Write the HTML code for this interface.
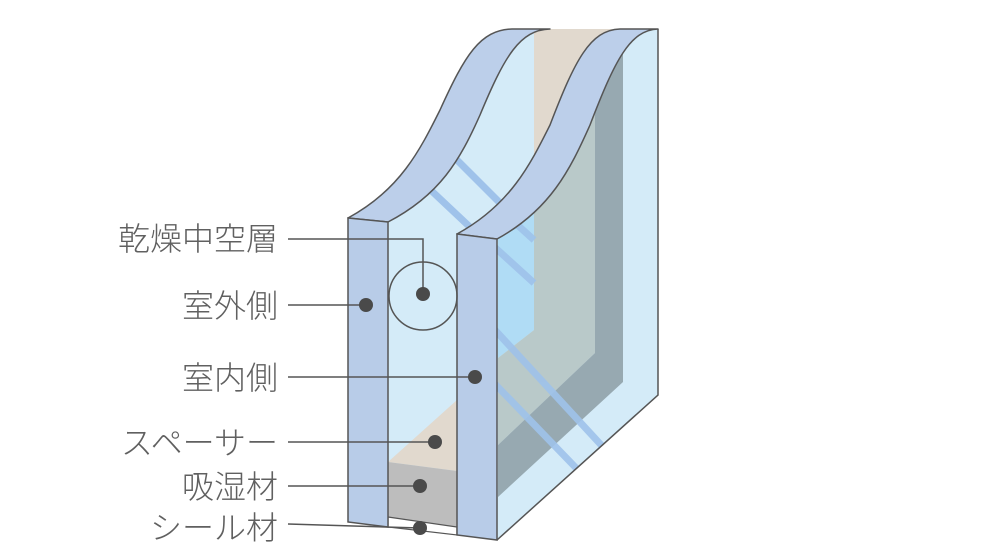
<!DOCTYPE html>
<html><head><meta charset="utf-8"><style>
html,body{margin:0;padding:0;background:#fff;width:1000px;height:557px;overflow:hidden}
svg{display:block}
text{font-family:"Liberation Sans","Noto Sans CJK JP",sans-serif;font-size:32px;fill:#606060;font-weight:300}
</style></head><body>
<svg width="1000" height="557" viewBox="0 0 1000 557" xmlns="http://www.w3.org/2000/svg">
<defs>
<clipPath id="thru"><path d="M497,239 C550,210 570,170 590,125 C615,60 630,30 658,29 L658,395 L497,540 Z"/></clipPath>
<clipPath id="gap"><path d="M388,222 C440,195 460,160 480,115 C505,55 520,30 550,29 L620,29 C590,30 575,60 550,125 C530,165 510,205 457,234 L457,540 L388,540 Z"/></clipPath>
</defs>
<path d="M348,218 C400,190 420,150 440,110 C465,55 480,30 512,29 L658,29 L658,395 L497,540 L348,522 Z" fill="#d4ebf8"/>
<g clip-path="url(#gap)" stroke="#9fc2ea" stroke-width="7">
<line x1="440" y1="143" x2="540" y2="243"/>
<line x1="420" y1="180" x2="540" y2="293"/>
</g>
<g clip-path="url(#gap)"><rect x="534" y="29" width="90" height="260" fill="#e1d9ce"/></g>
<g clip-path="url(#thru)">
<rect x="490" y="20" width="180" height="530" fill="#d4ebf8"/>
<polygon points="498,20 534,20 534,330 498,358" fill="#b0dcf5"/>
<polygon points="534,20 595,20 595,353 498,445 498,358 534,330" fill="#b9c9c9"/>
<polygon points="595,20 623,20 623,382 498,497 498,445 595,353" fill="#97a9b1"/>
<g stroke="#9fc2ea" stroke-width="7" opacity="0.9">
<line x1="490" y1="243" x2="534" y2="283"/>
<line x1="490" y1="200" x2="534" y2="240"/>
<line x1="495" y1="330" x2="603" y2="447"/>
<line x1="495" y1="384" x2="578" y2="470"/>
</g>
</g>
<polygon points="388,462 457,400 457,471" fill="#e1d9ce"/>
<polygon points="388,462 457,471 457,527 388,517" fill="#bdbdbd"/>
<polygon points="388,517 457,527 457,535 388,527" fill="#fff" stroke="#555" stroke-width="1.2"/>
<path d="M348,218 C400,190 420,150 440,110 C465,55 480,30 512,29 L550,29 C520,30 505,55 480,115 C460,160 440,195 388,222 Z" fill="#bccfea" stroke="#555" stroke-width="1.5" stroke-linejoin="round"/>
<polygon points="348,218 388,222 388,527 348,522" fill="#b8cce8" stroke="#555" stroke-width="1.5"/>
<path d="M457,234 C510,205 530,165 550,125 C575,60 590,30 620,29 L658,29 C630,30 615,60 590,125 C570,170 550,210 497,239 Z" fill="#bccfea" stroke="#555" stroke-width="1.5" stroke-linejoin="round"/>
<polygon points="457,234 497,239 497,540 457,535" fill="#b8cce8" stroke="#555" stroke-width="1.5"/>
<polyline points="658,29 658,395 497,540" fill="none" stroke="#555" stroke-width="1.5"/>
<circle cx="423" cy="296" r="34" fill="none" stroke="#555" stroke-width="1.5"/>
<g stroke="#555" stroke-width="1.5" fill="none">
<polyline points="288,239 423,239 423,294"/>
<line x1="288" y1="305" x2="366" y2="305"/>
<line x1="288" y1="377" x2="475" y2="377"/>
<line x1="288" y1="442" x2="435" y2="442"/>
<line x1="288" y1="486" x2="420" y2="486"/>
<line x1="288" y1="524" x2="420" y2="528"/>
</g>
<g fill="#4a4a4a">
<circle cx="423" cy="294" r="7"/>
<circle cx="366" cy="305" r="7"/>
<circle cx="475" cy="377" r="7"/>
<circle cx="435" cy="442" r="7"/>
<circle cx="420" cy="486" r="7"/>
<circle cx="420" cy="528" r="7"/>
</g>
<g text-anchor="end">
<text x="278" y="250">乾燥中空層</text>
<text x="278" y="317">室外側</text>
<text x="278" y="389">室内側</text>
<text x="278" y="454">スペーサー</text>
<text x="278" y="498">吸湿材</text>
<text x="278" y="539">シール材</text>
</g>
</svg>
</body></html>
